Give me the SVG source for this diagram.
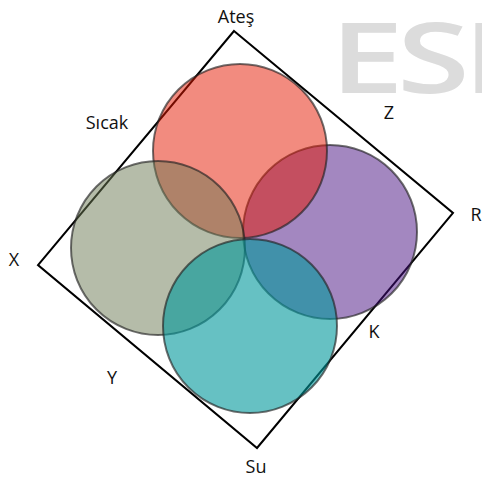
<svg xmlns="http://www.w3.org/2000/svg" width="482" height="480" viewBox="0 0 482 480">
<style>
.lbl{font-family:"Open Sans","Noto Sans","Liberation Sans",sans-serif;font-size:18px;fill:#111;text-anchor:middle}
.wm{font-family:"Open Sans","Noto Sans","Liberation Sans",sans-serif;font-size:98px;font-weight:600;fill:#dcdcdc;letter-spacing:-5px}
.c{stroke:#222;stroke-opacity:0.65;stroke-width:2}
</style>
<rect width="482" height="480" fill="#fff"/>
<text class="wm" transform="translate(330,93) scale(1.35,1)" x="0" y="0">ESI</text>
<g id="frame">
<polygon points="234,31 453,213 257,448 38,265" fill="none" stroke="#000" stroke-width="2"/>
</g>
<g id="circles">
<circle id="hava" class="c" cx="330" cy="232" r="87" fill="#470f81" fill-opacity="0.5"/>
<circle id="ates" class="c" cx="240" cy="151" r="87" fill="#e51700" fill-opacity="0.5"/>
<circle id="toprak" class="c" cx="158" cy="248" r="87" fill="#6b7953" fill-opacity="0.5"/>
<circle id="su" class="c" cx="250" cy="326" r="87" fill="#00989b" fill-opacity="0.6"/>
</g>
<g id="labels">
<text class="lbl" x="236" y="23">Ateş</text>
<text class="lbl" x="107" y="129">Sıcak</text>
<text class="lbl" x="389" y="119">Z</text>
<text class="lbl" x="476" y="221">R</text>
<text class="lbl" x="14" y="266">X</text>
<text class="lbl" x="374" y="338">K</text>
<text class="lbl" x="112" y="384">Y</text>
<text class="lbl" x="256" y="473">Su</text>
</g>
</svg>
